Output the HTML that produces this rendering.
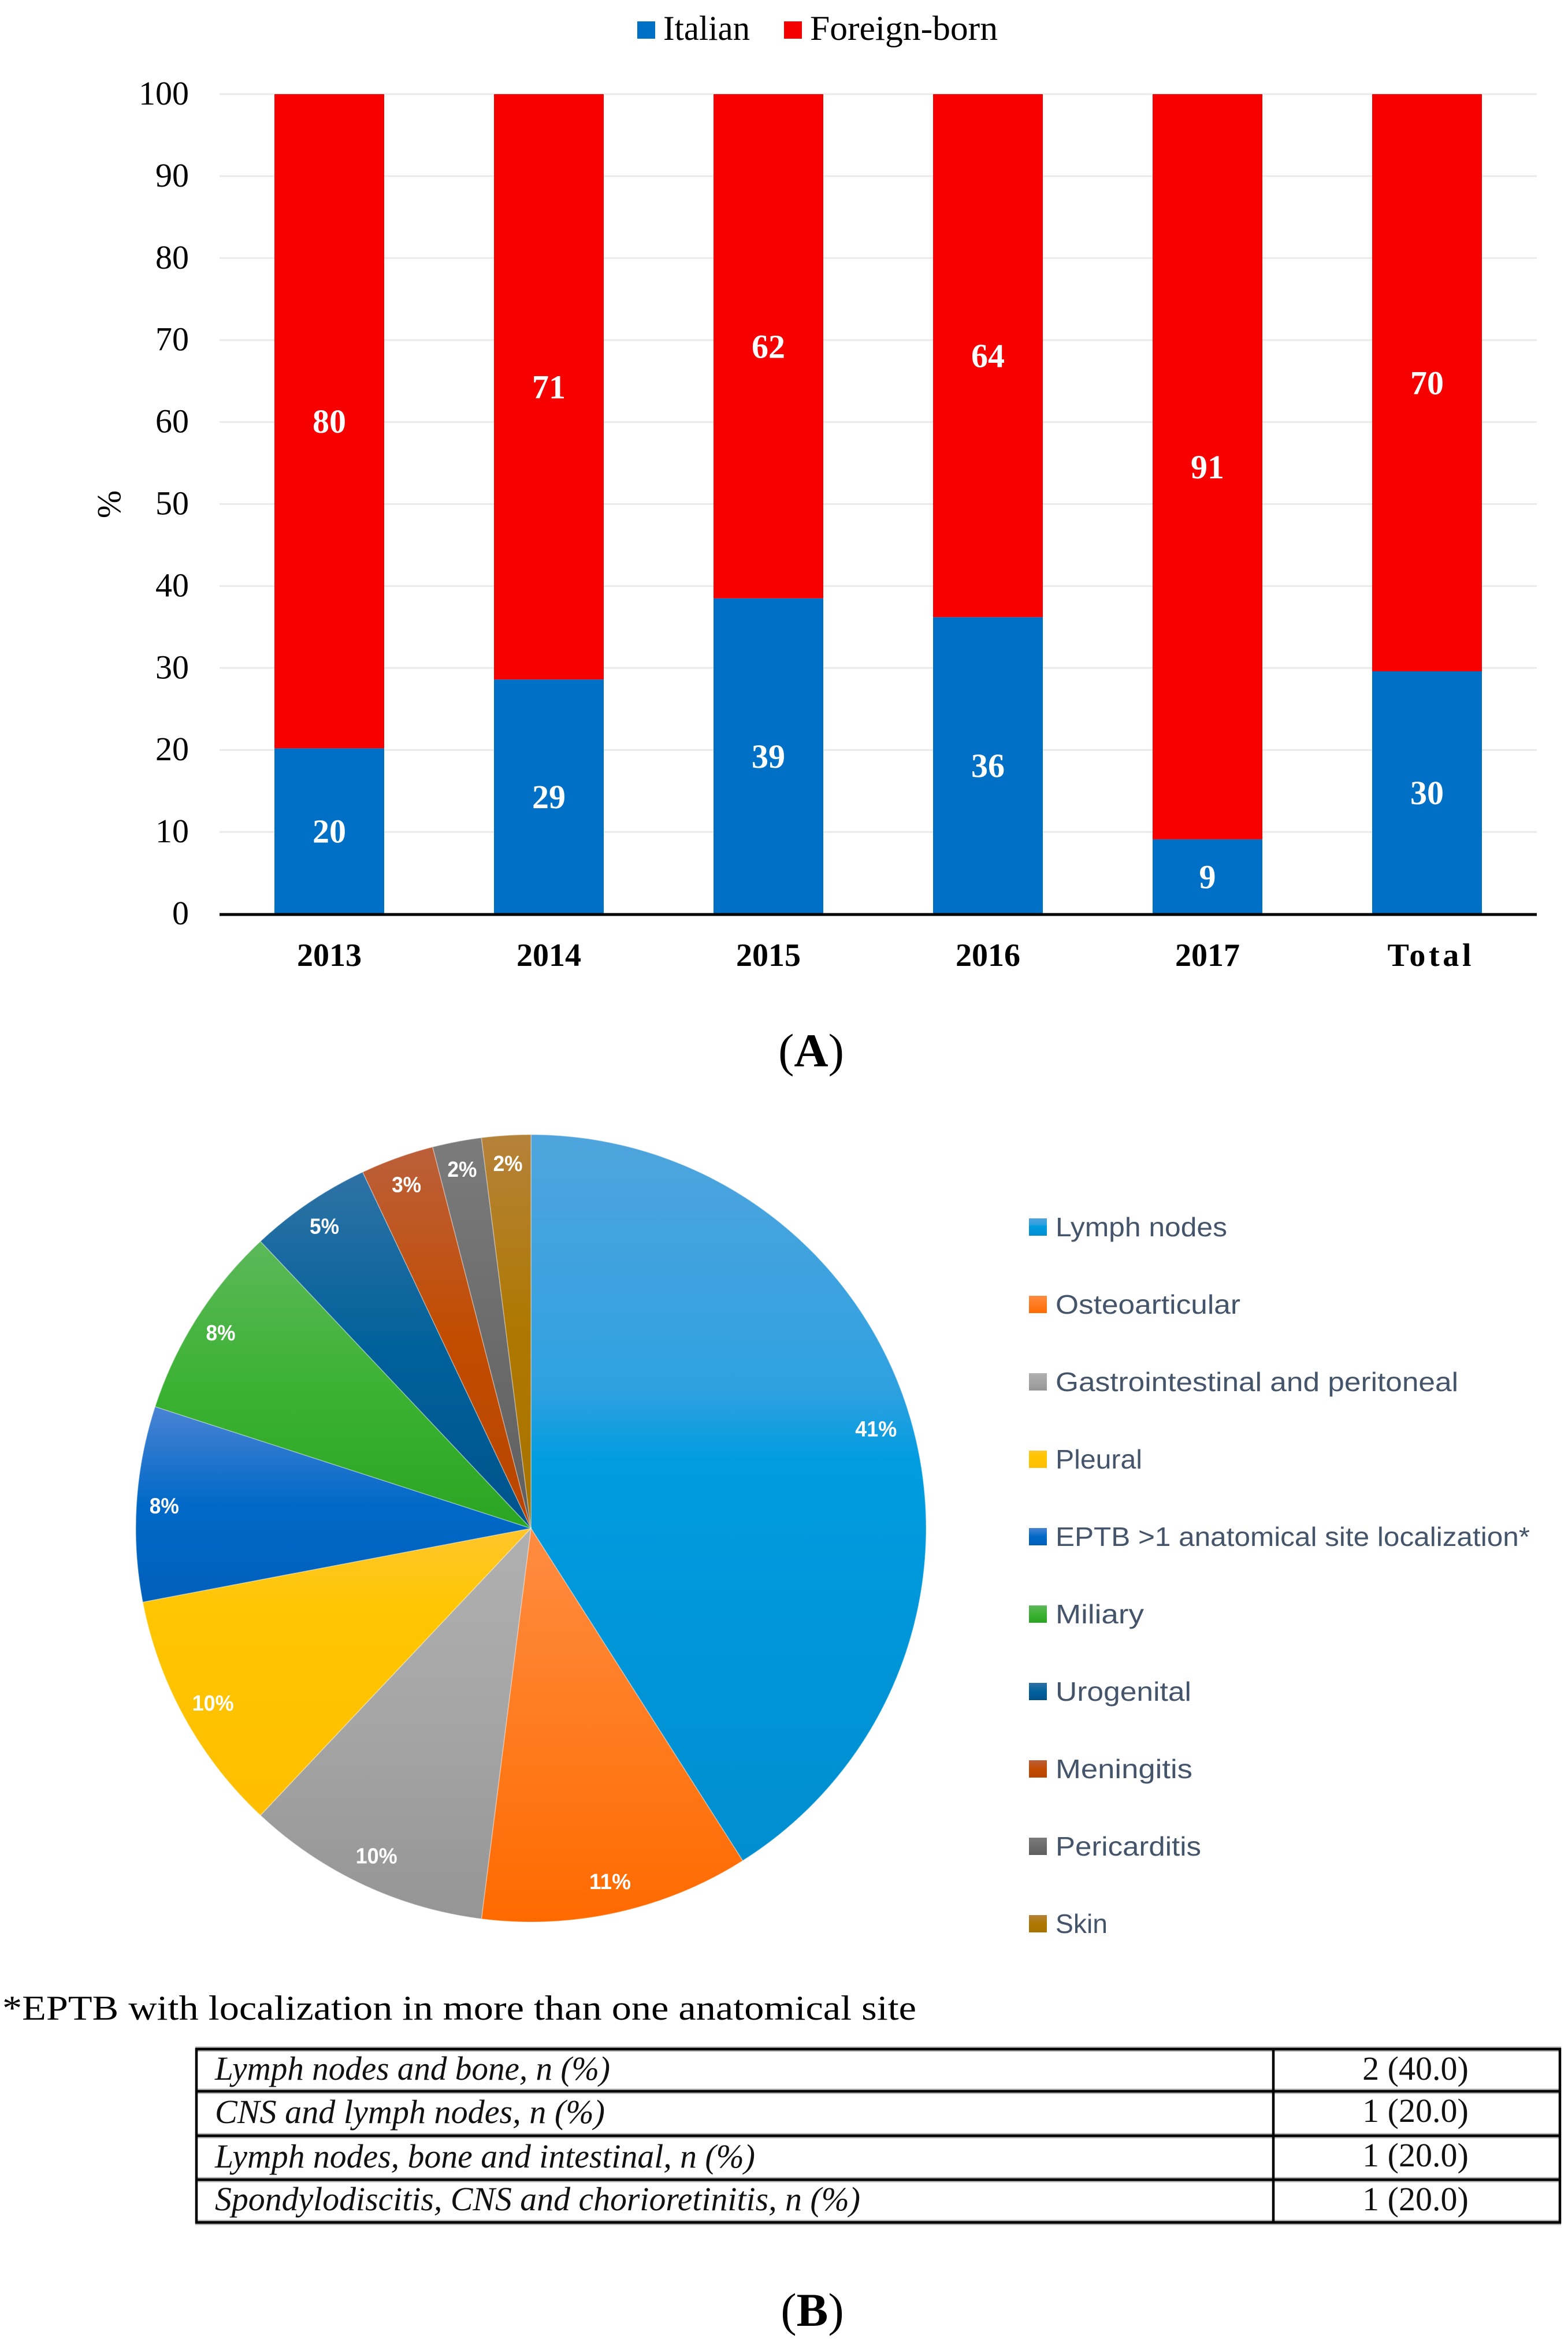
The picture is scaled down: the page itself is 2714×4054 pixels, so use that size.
<!DOCTYPE html>
<html lang="en">
<head>
<meta charset="utf-8">
<title>Italian vs foreign-born cases and EPTB localization</title>
<style>
html,body{margin:0;padding:0;background:#fff;width:2714px;height:4054px;overflow:hidden}
svg{display:block;position:absolute;left:0;top:0}
text{font-family:"Liberation Serif",serif;fill:#000}
.sans{font-family:"Liberation Sans",sans-serif}
.it{font-style:italic;font-size:58px;fill:#111}
.val{font-size:58px;fill:#111;text-anchor:middle}
</style>
</head>
<body>
<svg id="fig" xmlns="http://www.w3.org/2000/svg" width="2714" height="4054" viewBox="0 0 2714 4054">
<defs>
<linearGradient id="g0" x1="0" y1="0" x2="0" y2="1"><stop offset="0" stop-color="#4fa4dd"/><stop offset=".35" stop-color="#2fa1e0"/><stop offset=".45" stop-color="#009ce0"/><stop offset="1" stop-color="#008ecf"/></linearGradient>
<linearGradient id="g1" x1="0" y1="0" x2="0" y2="1"><stop offset="0" stop-color="#ff8c42"/><stop offset=".55" stop-color="#ff7a1c"/><stop offset="1" stop-color="#ff6a00"/></linearGradient>
<linearGradient id="g2" x1="0" y1="0" x2="0" y2="1"><stop offset="0" stop-color="#b0b0b0"/><stop offset=".5" stop-color="#a5a5a5"/><stop offset="1" stop-color="#959595"/></linearGradient>
<linearGradient id="g3" x1="0" y1="0" x2="0" y2="1"><stop offset="0" stop-color="#ffc52b"/><stop offset=".3" stop-color="#ffc600"/><stop offset="1" stop-color="#ffbe00"/></linearGradient>
<linearGradient id="g4" x1="0" y1="0" x2="0" y2="1"><stop offset="0" stop-color="#4a83d3"/><stop offset=".5" stop-color="#0069c8"/><stop offset="1" stop-color="#0060ba"/></linearGradient>
<linearGradient id="g5" x1="0" y1="0" x2="0" y2="1"><stop offset="0" stop-color="#5cb85a"/><stop offset=".5" stop-color="#3cb233"/><stop offset="1" stop-color="#2aa522"/></linearGradient>
<linearGradient id="g6" x1="0" y1="0" x2="0" y2="1"><stop offset="0" stop-color="#2f72a5"/><stop offset=".5" stop-color="#00619a"/><stop offset="1" stop-color="#00538c"/></linearGradient>
<linearGradient id="g7" x1="0" y1="0" x2="0" y2="1"><stop offset="0" stop-color="#bb5f3a"/><stop offset=".5" stop-color="#c24c00"/><stop offset="1" stop-color="#b84400"/></linearGradient>
<linearGradient id="g8" x1="0" y1="0" x2="0" y2="1"><stop offset="0" stop-color="#7b7b7b"/><stop offset=".5" stop-color="#6c6c6c"/><stop offset="1" stop-color="#5f5f5f"/></linearGradient>
<linearGradient id="g9" x1="0" y1="0" x2="0" y2="1"><stop offset="0" stop-color="#b5823a"/><stop offset=".5" stop-color="#ae7800"/><stop offset="1" stop-color="#a87200"/></linearGradient>
</defs>

<g>
  <rect x="1103" y="37" width="31" height="30" fill="#0070c6"/>
  <text x="1148" y="69" font-size="60" textLength="150" lengthAdjust="spacingAndGlyphs">Italian</text>
  <rect x="1357" y="37" width="31" height="30" fill="#f50000"/>
  <text x="1402" y="69" font-size="60" textLength="325" lengthAdjust="spacingAndGlyphs">Foreign-born</text>
</g>

<g id="barChart"></g>

<text x="1404" y="1846" font-size="82" text-anchor="middle">(<tspan font-weight="700">A</tspan>)</text>

<g id="pieChart"></g>
<g id="pieLegend"></g>

<text x="4" y="3496" font-size="60" fill="#111" textLength="1582" lengthAdjust="spacingAndGlyphs">*EPTB with localization in more than one anatomical site</text>

<g>
  <g stroke="#b4b4b4" stroke-width="9">
    <line x1="338" y1="3547" x2="2702" y2="3547"/>
    <line x1="338" y1="3620" x2="2702" y2="3620"/>
    <line x1="338" y1="3697" x2="2702" y2="3697"/>
    <line x1="338" y1="3773" x2="2702" y2="3773"/>
    <line x1="338" y1="3847" x2="2702" y2="3847"/>
  </g>
  <g stroke="#000" stroke-width="4.5">
    <line x1="338" y1="3547" x2="2702" y2="3547"/>
    <line x1="338" y1="3620" x2="2702" y2="3620"/>
    <line x1="338" y1="3697" x2="2702" y2="3697"/>
    <line x1="338" y1="3773" x2="2702" y2="3773"/>
    <line x1="338" y1="3847" x2="2702" y2="3847"/>
    <line x1="340" y1="3545" x2="340" y2="3849"/>
    <line x1="2204" y1="3545" x2="2204" y2="3849"/>
    <line x1="2700" y1="3545" x2="2700" y2="3849"/>
  </g>
  <text class="it" x="372" y="3600" textLength="684" lengthAdjust="spacingAndGlyphs">Lymph nodes and bone, n (%)</text>
  <text class="val" x="2450" y="3600">2 (40.0)</text>
  <text class="it" x="372" y="3675" textLength="675" lengthAdjust="spacingAndGlyphs">CNS and lymph nodes, n (%)</text>
  <text class="val" x="2450" y="3673">1 (20.0)</text>
  <text class="it" x="372" y="3752" textLength="935" lengthAdjust="spacingAndGlyphs">Lymph nodes, bone and intestinal, n (%)</text>
  <text class="val" x="2450" y="3750">1 (20.0)</text>
  <text class="it" x="372" y="3826" textLength="1117" lengthAdjust="spacingAndGlyphs">Spondylodiscitis, CNS and chorioretinitis, n (%)</text>
  <text class="val" x="2450" y="3826">1 (20.0)</text>
</g>

<text x="1406" y="4026" font-size="82" text-anchor="middle">(<tspan font-weight="700">B</tspan>)</text>
</svg>

<script>
// Bar chart data
const barCategories = ['2013', '2014', '2015', '2016', '2017', 'Total'];
const italianValues = [20.2, 28.6, 38.5, 36.2, 9.1, 29.6];
const foreignValues = [79.8, 71.4, 61.5, 63.8, 90.9, 70.4];
const yTicks = [0, 10, 20, 30, 40, 50, 60, 70, 80, 90, 100];

// Pie chart data
const pieCategories = ['Lymph nodes', 'Osteoarticular', 'Gastrointestinal and peritoneal', 'Pleural', 'EPTB >1 anatomical site localization*', 'Miliary', 'Urogenital', 'Meningitis', 'Pericarditis', 'Skin'];
const pieValues = [41, 11, 10, 10, 8, 8, 5, 3, 2, 2];

const NS = 'http://www.w3.org/2000/svg';
function mk(tag, attrs, parent) {
  const el = document.createElementNS(NS, tag);
  for (const k in attrs) el.setAttribute(k, attrs[k]);
  parent.appendChild(el);
  return el;
}
function slug(s) { return s.toLowerCase().replace(/[^a-z0-9]+/g, '-').replace(/^-|-$/g, ''); }

// Bar chart axes
const plotLeft = 380, plotRight = 2660, plotBottom = 1582, plotTop = 163, yMax = 100;
const yScale = v => plotBottom - (v / yMax) * (plotBottom - plotTop);
const band = (plotRight - plotLeft) / barCategories.length;
const xCenter = i => plotLeft + band * (i + 0.5);
const barWidth = band * 0.5;

const barRoot = document.getElementById('barChart');

yTicks.forEach(t => {
  if (t > 0) {
    const g = mk('line', {x1: plotLeft, x2: plotRight, y1: yScale(t), y2: yScale(t), stroke: '#eaeaea', 'stroke-width': 3}, barRoot);
    
    
  }
  const lab = mk('text', {x: 327, y: yScale(t) + 18, 'font-size': 58, 'text-anchor': 'end', fill: '#111'}, barRoot);
  lab.textContent = t;
  
  
});

const yTitle = mk('text', {x: 0, y: 0, 'font-size': 58, 'text-anchor': 'middle', transform: 'translate(208 873) rotate(-90)'}, barRoot);
yTitle.textContent = '%';



barCategories.forEach((cat, i) => {
  const a = italianValues[i], b = foreignValues[i];
  const cx = xCenter(i), x = cx - barWidth / 2;

  const blue = mk('rect', {x: x, y: yScale(a), width: barWidth, height: yScale(0) - yScale(a), fill: '#0070c6'}, barRoot);
  
  

  const red = mk('rect', {x: x, y: yScale(a + b), width: barWidth, height: yScale(a) - yScale(a + b), fill: '#f60000'}, barRoot);
  
  

  const la = mk('text', {x: cx, y: yScale(a / 2) + 20, 'font-size': 58, 'font-weight': 700, 'text-anchor': 'middle', style: 'fill:#fff'}, barRoot);
  la.textContent = Math.round(a);
  
  

  const lb = mk('text', {x: cx, y: yScale(a + b / 2) + 20, 'font-size': 58, 'font-weight': 700, 'text-anchor': 'middle', style: 'fill:#fff'}, barRoot);
  lb.textContent = Math.round(b);
  
  

  const xl = mk('text', {x: cx, y: 1672, 'font-size': 56, 'font-weight': 700, 'text-anchor': 'middle'}, barRoot);
  if (cat === 'Total') {
    xl.setAttribute('x', cx + 4);
    xl.setAttribute('textLength', 145);
  }
  xl.textContent = cat;
  
  
});

const xAxis = mk('line', {x1: plotLeft, x2: plotRight, y1: plotBottom + 1, y2: plotBottom + 1, stroke: '#000', 'stroke-width': 5}, barRoot);



// Pie chart geometry
const pieCx = 919, pieCy = 2645.5, pieRx = 684, pieRy = 681.5;
const pieRoot = document.getElementById('pieChart');
const pieTotal = pieValues.reduce((s, v) => s + v, 0);
const polar = (frac, k) => {
  const a = frac * 2 * Math.PI;
  return [pieCx + pieRx * k * Math.sin(a), pieCy - pieRy * k * Math.cos(a)];
};

let cum = 0;
pieValues.forEach((v, i) => {
  const f0 = cum / pieTotal;
  const f1 = (cum + v) / pieTotal;
  const p0 = polar(f0, 1), p1 = polar(f1, 1);
  const large = (f1 - f0) > 0.5 ? 1 : 0;
  const d = 'M' + pieCx + ' ' + pieCy + ' L' + p0[0] + ' ' + p0[1] + ' A' + pieRx + ' ' + pieRy + ' 0 ' + large + ' 1 ' + p1[0] + ' ' + p1[1] + ' Z';
  const slice = mk('path', {d: d, fill: 'url(#g' + i + ')', stroke: '#ffffff', 'stroke-opacity': 0.35, 'stroke-width': 1.5}, pieRoot);
  
  
  cum += v;
});

cum = 0;
pieValues.forEach((v, i) => {
  const mid = (cum + v / 2) / pieTotal;
  const s = v + '%';
  const labelK = (s.length === 2 ? 636 : (v >= 40 ? 622 : 628)) / pieRx;
  const p = polar(mid, labelK);
  const lab = mk('text', {x: p[0], y: p[1] + 14, 'font-size': 38, 'font-weight': 700, 'text-anchor': 'middle', textLength: s.length === 2 ? 51 : 72, lengthAdjust: 'spacingAndGlyphs', class: 'sans', style: 'fill:#fff'}, pieRoot);
  lab.textContent = s;
  
  
  cum += v;
});

// Pie legend
const legendRoot = document.getElementById('pieLegend');
const legendTextWidths = {0: 297, 1: 320, 2: 697, 3: 150, 4: 821, 5: 153, 6: 235, 7: 237, 8: 252, 9: 90};
pieCategories.forEach((name, i) => {
  const cy = 2124 + 134 * i;
  const sw = mk('rect', {x: 1781, y: cy - 15, width: 31, height: 30, fill: 'url(#g' + i + ')'}, legendRoot);
  
  
  const t = mk('text', {x: 1827, y: cy + 16, 'font-size': 46, textLength: legendTextWidths[i], lengthAdjust: 'spacingAndGlyphs', class: 'sans', style: 'fill:#44546a'}, legendRoot);
  t.textContent = name;
  
  
});
</script>
</body>
</html>
